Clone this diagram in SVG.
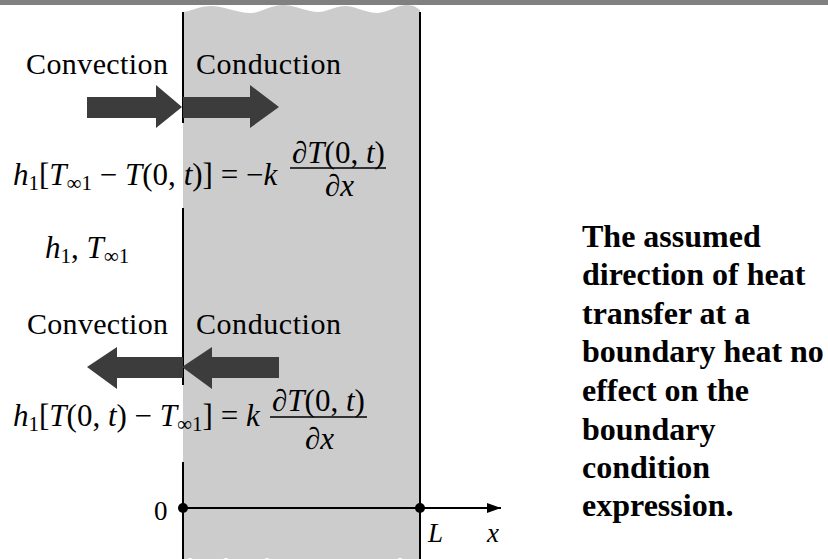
<svg xmlns="http://www.w3.org/2000/svg" width="828" height="559" viewBox="0 0 828 559" font-family="'Liberation Serif', 'DejaVu Serif', serif">
<style>
text{font-family:'Liberation Serif','DejaVu Serif',serif;fill:#000}
.lab{font-size:30px}
.eq{font-size:31px}
.i{font-style:italic}
.sub{font-size:21px}
.note{font-size:32px;font-weight:bold}
.ln{stroke:#000;stroke-width:2;fill:none}
.arr{fill:#3c3c3c}
</style>
<defs>
<marker id="ah" markerWidth="14" markerHeight="10" refX="14" refY="5" orient="auto" markerUnits="userSpaceOnUse">
<path d="M0,0 L14,5 L0,10 Z" fill="#000"/>
</marker>
</defs>
<rect x="0" y="0" width="828" height="5" fill="#808080"/>
<g id="slab">
<path d="M183,12 C192,11 198,6 212,6 C228,7 240,14 252,13 C263,12 270,5 284,5 C298,6 308,12 318,12 C328,12 334,6 346,6 C358,7 366,13 378,13 C390,12 396,5 408,5 L414,6 L420,10 L420,559 L183,559 Z" fill="#cccccc"/>
<circle cx="190" cy="561" r="3" fill="#fff"/>
<circle cx="226" cy="561" r="3" fill="#fff"/>
<circle cx="267" cy="561" r="3" fill="#fff"/>
<circle cx="400" cy="561" r="3" fill="#fff"/>
<line class="ln" x1="183" y1="12" x2="183" y2="123"/>
<line class="ln" x1="183" y1="208" x2="183" y2="385"/>
<line class="ln" x1="183" y1="462" x2="183" y2="559"/>
<line class="ln" x1="420" y1="12" x2="420" y2="559"/>
</g>
<g id="arrows-in">
<path class="arr" d="M87,97 L156,97 L156,85 L182,107 L156,128 L156,118 L87,118 Z"/>
<path class="arr" d="M183,97 L250,97 L250,85 L279,107 L250,128 L250,118 L183,118 Z"/>
</g>
<g id="arrows-out">
<path class="arr" d="M87,367 L117,347 L117,357 L183,357 L183,378 L117,378 L117,389 Z"/>
<path class="arr" d="M182,367 L212,347 L212,357 L279,357 L279,378 L212,378 L212,389 Z"/>
</g>
<g id="labels-top">
<text class="lab" x="26" y="74" textLength="142">Convection</text>
<text class="lab" x="196" y="74" textLength="145">Conduction</text>
</g>
<g id="labels-bottom">
<text class="lab" x="27" y="334" textLength="141">Convection</text>
<text class="lab" x="196" y="334" textLength="145">Conduction</text>
</g>
<g id="eq1">
<text class="eq" y="185"><tspan x="13" class="i">h</tspan><tspan class="sub" dy="5">1</tspan><tspan dy="-5">[</tspan><tspan class="i">T</tspan><tspan class="sub" dy="5">∞1</tspan><tspan dy="-5"> − </tspan><tspan class="i">T</tspan><tspan>(0, </tspan><tspan class="i">t</tspan><tspan>)] = −</tspan><tspan class="i">k</tspan></text>
<text class="eq" x="292" y="163">∂<tspan class="i">T</tspan>(0, <tspan class="i">t</tspan>)</text>
<line x1="290" y1="168" x2="386" y2="168" stroke="#000" stroke-width="1.5"/>
<text class="eq i" x="325" y="196">∂x</text>
</g>
<g id="ambient">
<text class="eq" y="258"><tspan x="45" class="i">h</tspan><tspan class="sub" dy="5">1</tspan><tspan dy="-5">, </tspan><tspan class="i">T</tspan><tspan class="sub" dy="5">∞1</tspan></text>
</g>
<g id="eq2">
<text class="eq" y="426"><tspan x="13" class="i">h</tspan><tspan class="sub" dy="5">1</tspan><tspan dy="-5">[</tspan><tspan class="i">T</tspan><tspan>(0, </tspan><tspan class="i">t</tspan><tspan>) − </tspan><tspan class="i">T</tspan><tspan class="sub" dy="5">∞1</tspan><tspan dy="-5">] = </tspan><tspan class="i">k</tspan></text>
<text class="eq" x="272" y="411">∂<tspan class="i">T</tspan>(0, <tspan class="i">t</tspan>)</text>
<line x1="270" y1="417" x2="367" y2="417" stroke="#000" stroke-width="1.5"/>
<text class="eq i" x="305" y="449">∂x</text>
</g>
<g id="connectors">
<line class="ln" x1="183" y1="508" x2="501" y2="508" marker-end="url(#ah)"/>
</g>
<g id="axis-points">
<circle cx="183" cy="508" r="5" fill="#000"/>
<circle cx="420" cy="508" r="5" fill="#000"/>
<text x="154" y="520" font-size="27">0</text>
<text class="i" x="428" y="542" font-size="27">L</text>
<text class="i" x="487" y="542" font-size="27">x</text>
</g>
<g id="note">
<text class="note" x="582" y="247">The assumed</text>
<text class="note" x="582" y="285">direction of heat</text>
<text class="note" x="582" y="324">transfer at a</text>
<text class="note" x="582" y="362">boundary heat no</text>
<text class="note" x="582" y="401">effect on the</text>
<text class="note" x="582" y="440">boundary</text>
<text class="note" x="582" y="478">condition</text>
<text class="note" x="582" y="516">expression.</text>
</g>
</svg>
